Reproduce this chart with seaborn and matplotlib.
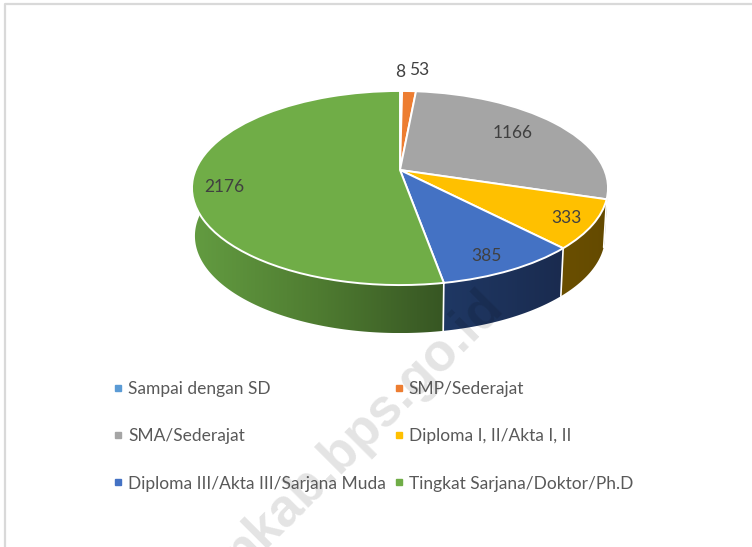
import numpy as np
import matplotlib
matplotlib.use("Agg")
import matplotlib.pyplot as plt
import seaborn as sns
from matplotlib.colors import to_rgb
from matplotlib.lines import Line2D
from matplotlib.patches import Polygon
from matplotlib.transforms import Transform

# ── Data ──────────────────────────────────────────────────────
categories = [
    "Sampai dengan SD", "SMP/Sederajat", "SMA/Sederajat", "Diploma I, II/Akta I, II",
    "Diploma III/Akta III/Sarjana Muda", "Tingkat Sarjana/Doktor/Ph.D",
]
values = [8, 53, 1166, 333, 385, 2176]
colors = ["#5B9BD5", "#ED7D31", "#A5A5A5", "#FFC000", "#4472C4", "#70AD47"]
# wall shades, left to right on the screen
wall_colors = [
    ["#3A6A94", "#3A6A94"], ["#8A4A1C", "#8A4A1C"], ["#636363", "#636363"],
    ["#6A4F00", "#644A00"], ["#1F3864", "#1A2B4F"], ["#639C41", "#4F7C31", "#375623"],
]
label_pos = [(400, 72), (419, 70), (513, 133), (567, 218), (487, 256), (224, 187)]

sns.set_theme(style="white")
plt.rcParams["font.family"] = ["Lato", "DejaVu Sans"]


# ── Perspective for the tilted disc ───────────────────────────
class DiscProjection(Transform):
    input_dims = 2
    output_dims = 2
    is_separable = False
    has_inverse = False

    def __init__(self, cx, cy, a, b, k):
        super().__init__()
        self.cx, self.cy, self.a, self.b, self.k = cx, cy, a, b, k

    def transform_non_affine(self, values):
        values = np.asarray(values, dtype=float)
        w = 1 + self.k * values[:, 1]
        return np.column_stack([
            self.cx + self.a * values[:, 0] / w,
            self.cy - self.b * values[:, 1] / w,
        ])


top = DiscProjection(400, 170, 204.4, 93.7, 0.1856)
bottom = DiscProjection(400, 218, 201.5, 93.7, 0.1856)

fig = plt.figure(figsize=(7.52, 5.47), dpi=100)
ax = fig.add_axes([0, 0, 1, 1])

wedges, _ = ax.pie(
    values, colors=sns.color_palette(colors), startangle=90, counterclock=False,
    wedgeprops={"edgecolor": "white", "linewidth": 1.4, "zorder": 3},
)

# ── Side wall, only the part facing the viewer ────────────────
VISIBLE_FROM, VISIBLE_TO = -15, -190
for wedge, shades in zip(wedges, wall_colors):
    wedge.set_transform(top + ax.transData)
    hi, lo = wedge.theta2, wedge.theta1
    if hi > 90:
        hi, lo = hi - 360, lo - 360
    hi, lo = min(hi, VISIBLE_FROM), max(lo, VISIBLE_TO)
    if hi <= lo:
        continue
    arc = np.radians(np.linspace(hi, lo, 120))
    ring = np.column_stack([np.cos(arc), np.sin(arc)])
    outline = np.vstack([top.transform_non_affine(ring),
                         bottom.transform_non_affine(ring)[::-1]])
    shape = Polygon(outline, closed=True, fc="none", ec="none", transform=ax.transData)
    ax.add_patch(shape)
    gradient = np.array([[to_rgb(c) for c in sns.blend_palette(shades, 256)]])
    img = ax.imshow(gradient, aspect="auto", zorder=2, interpolation="bilinear",
                    extent=[outline[:, 0].min(), outline[:, 0].max(),
                            outline[:, 1].max(), outline[:, 1].min()])
    img.set_clip_path(shape)
    # white seam at the left end of the wall
    if lo > VISIBLE_TO:
        seam = np.array([[np.cos(arc[-1]), np.sin(arc[-1])]])
        p, q = top.transform_non_affine(seam)[0], bottom.transform_non_affine(seam)[0]
        ax.plot([p[0], q[0]], [p[1], q[1]], color="white", lw=1.2, zorder=2.5)

ax.set_aspect("auto")
ax.set_xlim(0, 752)
ax.set_ylim(547, 0)
ax.axis("off")

# ── Value labels ──────────────────────────────────────────────
for value, (x, y) in zip(values, label_pos):
    ax.text(x, y, str(value), ha="center", va="center", fontsize=12.5, color="#404040", zorder=4)

# ── Legend, filled column by column so rows read left to right ─
order = [0, 2, 4, 1, 3, 5]
handles = [Line2D([], [], ls="", marker="s", ms=4.6, color=colors[i], label=categories[i]) for i in order]
ax.legend(
    handles=handles, ncol=2, frameon=False, loc="upper left",
    bbox_to_anchor=(110 / 752, 1 - 381 / 547), fontsize=12.5, labelcolor="#595959",
    labelspacing=1.8, columnspacing=0.28, handlelength=0.9, handletextpad=0.14,
    borderpad=0, borderaxespad=0,
)

# ── Watermark and chart border ────────────────────────────────
ax.text(505, 308, "nkab.bps.go.id", rotation=45, rotation_mode="anchor", ha="right", va="baseline",
        family="Liberation Sans", fontweight="bold", fontsize=38, color="black", alpha=0.11, zorder=5)
ax.plot([5, 5, 752], [547, 4, 4], color="#D9D9D9", lw=1.6, zorder=1)

fig.savefig("out.png", dpi=100)
